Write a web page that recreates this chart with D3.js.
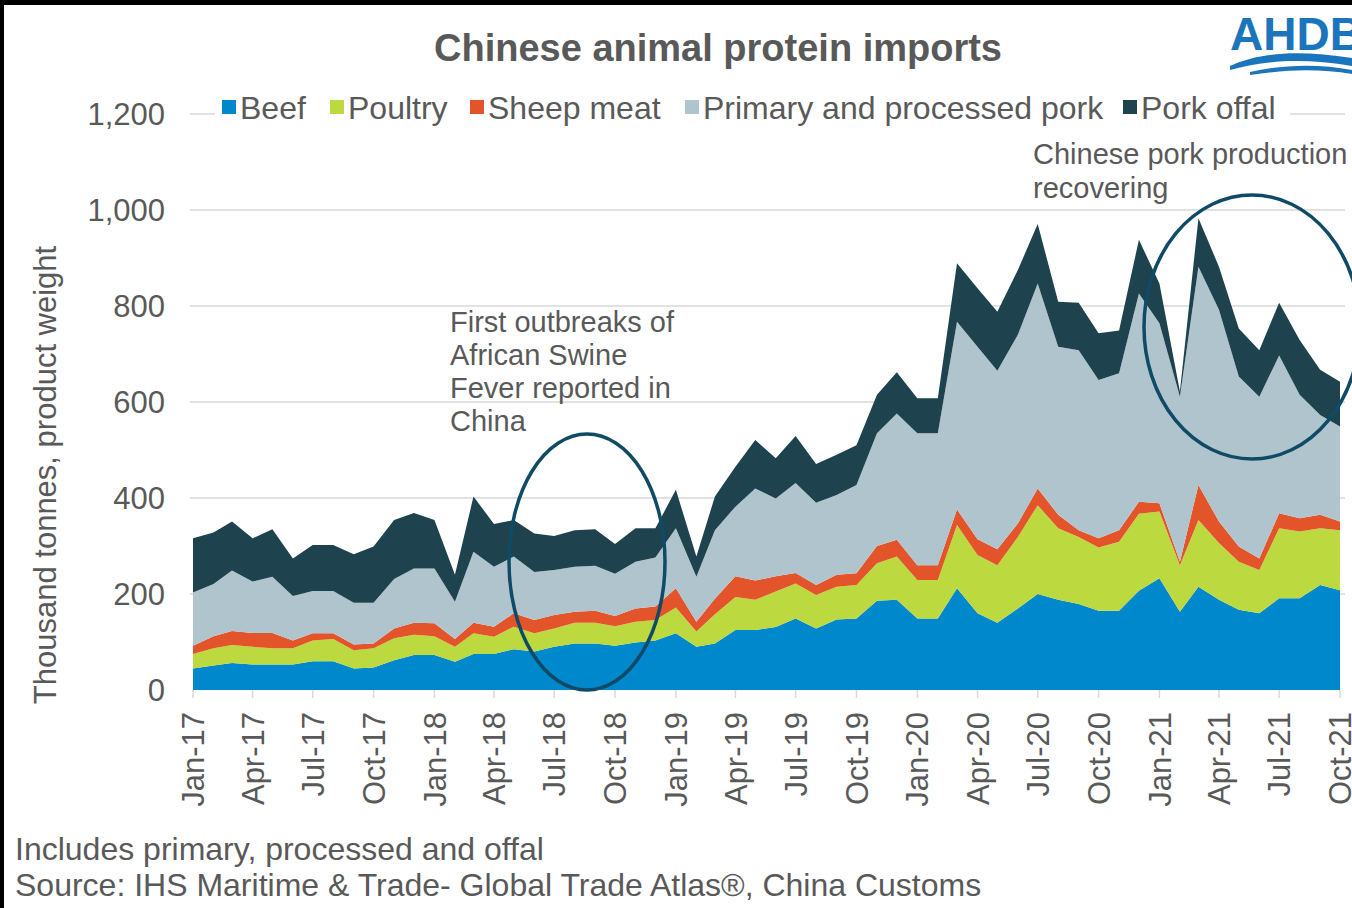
<!DOCTYPE html>
<html>
<head>
<meta charset="utf-8">
<script src="https://cdn.jsdelivr.net/npm/d3@7"></script>
<style>
  html, body { margin: 0; padding: 0; background: #000; }
  svg { display: block; }
  text { font-family: "Liberation Sans", Arial, sans-serif; fill: #595959; }
</style>
</head>
<body>
<script>
// monthly imports, thousand tonnes, Jan-17 .. Oct-21
var beef    = [45,51,56,53,53,53,60,60,45,47,62,73, 73,59,75,75,85,80,90,97,97,92,99,103,
               118,90,97,125,125,131,149,128,147,149,186,188, 149,149,212,160,140,170,200,188,179,165,165,207,
               233,163,215,188,167,160,191,191,219,208]
var poultry = [30,36,38,37,34,34,43,46,38,40,46,42, 39,31,43,36,47,38,38,43,43,41,43,43,
               54,32,61,69,63,74,73,70,68,70,78,90, 80,80,132,121,120,149,185,149,140,132,144,160,
               139,97,139,118,100,90,146,139,118,125]
var sheep   = [17,25,29,29,32,16,15,12,12,10,20,25, 27,16,22,21,28,28,28,23,25,21,28,28,
               40,20,32,43,40,32,22,21,25,24,36,35, 31,31,32,33,33,28,35,28,14,19,24,25,
               17,7,73,45,32,24,31,28,28,18]
var pork    = [111,109,126,107,117,93,88,88,87,85,103,113, 114,78,148,125,118,100,94,94,94,88,97,102,
               125,94,143,145,192,162,187,171,166,184,235,263, 275,275,391,401,372,393,427,350,375,330,327,434,
               375,344,455,441,354,337,329,257,208,198]
var offal   = [113,107,102,90,99,78,96,96,101,117,123,116, 101,56,115,89,76,80,71,76,76,62,70,61,
               80,42,70,83,101,84,98,81,84,83,80,86, 73,73,122,122,123,135,124,94,99,97,89,112,
               83,11,101,90,100,97,110,114,94,93]

var seriesNames  = ["Beef", "Poultry", "Sheep meat", "Primary and processed pork", "Pork offal"]
var seriesColors = ["#0088cc", "#bcd93f", "#e3542a", "#b0c4cd", "#1f434e"]
var yTicks = [0, 200, 400, 600, 800, 1000, 1200]
var xTickLabels = ["Jan-17","Apr-17","Jul-17","Oct-17","Jan-18","Apr-18","Jul-18","Oct-18",
                   "Jan-19","Apr-19","Jul-19","Oct-19","Jan-20","Apr-20","Jul-20","Oct-20",
                   "Jan-21","Apr-21","Jul-21","Oct-21"]

var w = 1352, h = 908
var plotLeft = 193, plotRight = 1340, plotTop = 114, plotBottom = 690

var months = d3.timeMonth.range(new Date(2017, 0, 1), new Date(2021, 10, 1))
var rows = months.map(function (m, i) {
  return { date: m, Beef: beef[i], Poultry: poultry[i], "Sheep meat": sheep[i],
           "Primary and processed pork": pork[i], "Pork offal": offal[i] }
})

var svg = d3.select("body").append("svg")
  .attr("width", w)
  .attr("height", h)

// white page inside a thin black frame
svg.append("rect").attr("x", 4).attr("y", 5).attr("width", w - 4).attr("height", h - 5).attr("fill", "#fff")

var x = d3.scaleTime().domain([months[0], months[months.length - 1]]).range([plotLeft, plotRight])
var y = d3.scaleLinear().domain([0, 1200]).range([plotBottom, plotTop])

// gridlines
svg.append("g").selectAll("line")
  .data(yTicks.slice(1))
  .enter().append("line")
  .attr("x1", plotLeft - 3).attr("x2", 1345)
  .attr("y1", function (d) { return y(d) }).attr("y2", function (d) { return y(d) })
  .attr("stroke", "#d9d9d9").attr("stroke-width", 1.5)

// y tick labels
svg.append("g").selectAll("text")
  .data(yTicks)
  .enter().append("text")
  .attr("x", 165)
  .attr("y", function (d) { return y(d) })
  .attr("dy", "0.36em")
  .attr("text-anchor", "end")
  .style("font-size", "31px")
  .text(d3.format(","))

// stacked areas
var stack = d3.stack().keys(seriesNames)
var area = d3.area()
  .x(function (d) { return x(d.data.date) })
  .y0(function (d) { return y(d[0]) })
  .y1(function (d) { return y(d[1]) })

svg.append("g").selectAll("path")
  .data(stack(rows))
  .enter().append("path")
  .attr("fill", function (d, i) { return seriesColors[i] })
  .attr("d", area)

// x axis ticks and labels
var tickDates = months.filter(function (m, i) { return i % 3 == 0 })
svg.append("g").selectAll("line")
  .data(tickDates)
  .enter().append("line")
  .attr("x1", function (d) { return x(d) }).attr("x2", function (d) { return x(d) })
  .attr("y1", plotBottom).attr("y2", plotBottom + 8)
  .attr("stroke", "#d9d9d9").attr("stroke-width", 1.5)
svg.append("g").selectAll("text")
  .data(tickDates)
  .enter().append("text")
  .attr("transform", function (d) { return "translate(" + x(d) + "," + (plotBottom + 22) + ") rotate(-90)" })
  .attr("dy", "0.36em")
  .attr("text-anchor", "end")
  .style("font-size", "31px")
  .text(function (d, i) { return xTickLabels[i] })

// y axis title
svg.append("text")
  .attr("transform", "translate(45," + 475 + ") rotate(-90)")
  .attr("dy", "0.36em")
  .attr("text-anchor", "middle")
  .style("font-size", "31px")
  .text("Thousand  tonnes,  product  weight")

// title
svg.append("text")
  .attr("x", 718).attr("y", 61)
  .attr("text-anchor", "middle")
  .style("font-size", "38px").style("font-weight", "bold")
  .text("Chinese animal protein imports")

// legend
var legendX = [222, 330, 470, 685, 1123]
svg.append("rect").attr("x", 215).attr("y", 96).attr("width", 1075).attr("height", 26).attr("fill", "#fff")
var lg = svg.append("g").selectAll("g")
  .data(seriesNames)
  .enter().append("g")
  .attr("transform", function (d, i) { return "translate(" + legendX[i] + ",0)" })
lg.append("rect")
  .attr("x", 0).attr("y", 100).attr("width", 14).attr("height", 14)
  .attr("fill", function (d, i) { return seriesColors[i] })
lg.append("text")
  .attr("x", 18).attr("y", 119)
  .style("font-size", "32px")
  .text(function (d) { return d })

// annotations
var note1 = ["First outbreaks of", "African Swine", "Fever reported  in", "China"]
svg.append("g").selectAll("text")
  .data(note1)
  .enter().append("text")
  .attr("x", 450).attr("y", function (d, i) { return 332 + i * 33 })
  .style("font-size", "29px")
  .text(function (d) { return d })
var note2 = ["Chinese pork production", "recovering"]
svg.append("g").selectAll("text")
  .data(note2)
  .enter().append("text")
  .attr("x", 1033).attr("y", function (d, i) { return 164 + i * 34 })
  .style("font-size", "29px")
  .text(function (d) { return d })

svg.append("ellipse")
  .attr("cx", 587).attr("cy", 562).attr("rx", 78).attr("ry", 128)
  .attr("fill", "none").attr("stroke", "#0f4a66").attr("stroke-width", 3.5)
svg.append("ellipse")
  .attr("cx", 1252).attr("cy", 327).attr("rx", 108).attr("ry", 132)
  .attr("fill", "none").attr("stroke", "#0f4a66").attr("stroke-width", 3.5)

// footer
svg.append("text").attr("x", 15).attr("y", 860).style("font-size", "32px")
  .text("Includes  primary, processed and offal")
svg.append("text").attr("x", 15).attr("y", 896).style("font-size", "32px")
  .text("Source: IHS Maritime & Trade- Global Trade Atlas®, China Customs")

// logo
svg.append("text")
  .attr("x", 1230).attr("y", 50)
  .style("font-size", "46px").style("font-weight", "bold").style("fill", "#1b75bc")
  .text("AHDB")
svg.append("path")
  .attr("d", "M1230,66 C1260,52 1300,50 1352,58 L1352,66 C1305,58 1265,60 1230,70 Z")
  .attr("fill", "#1b75bc")
svg.append("path")
  .attr("d", "M1250,72 C1285,64 1320,64 1352,70 L1352,74 C1320,69 1290,69 1250,75 Z")
  .attr("fill", "#1b75bc")
</script>
</body>
</html>
